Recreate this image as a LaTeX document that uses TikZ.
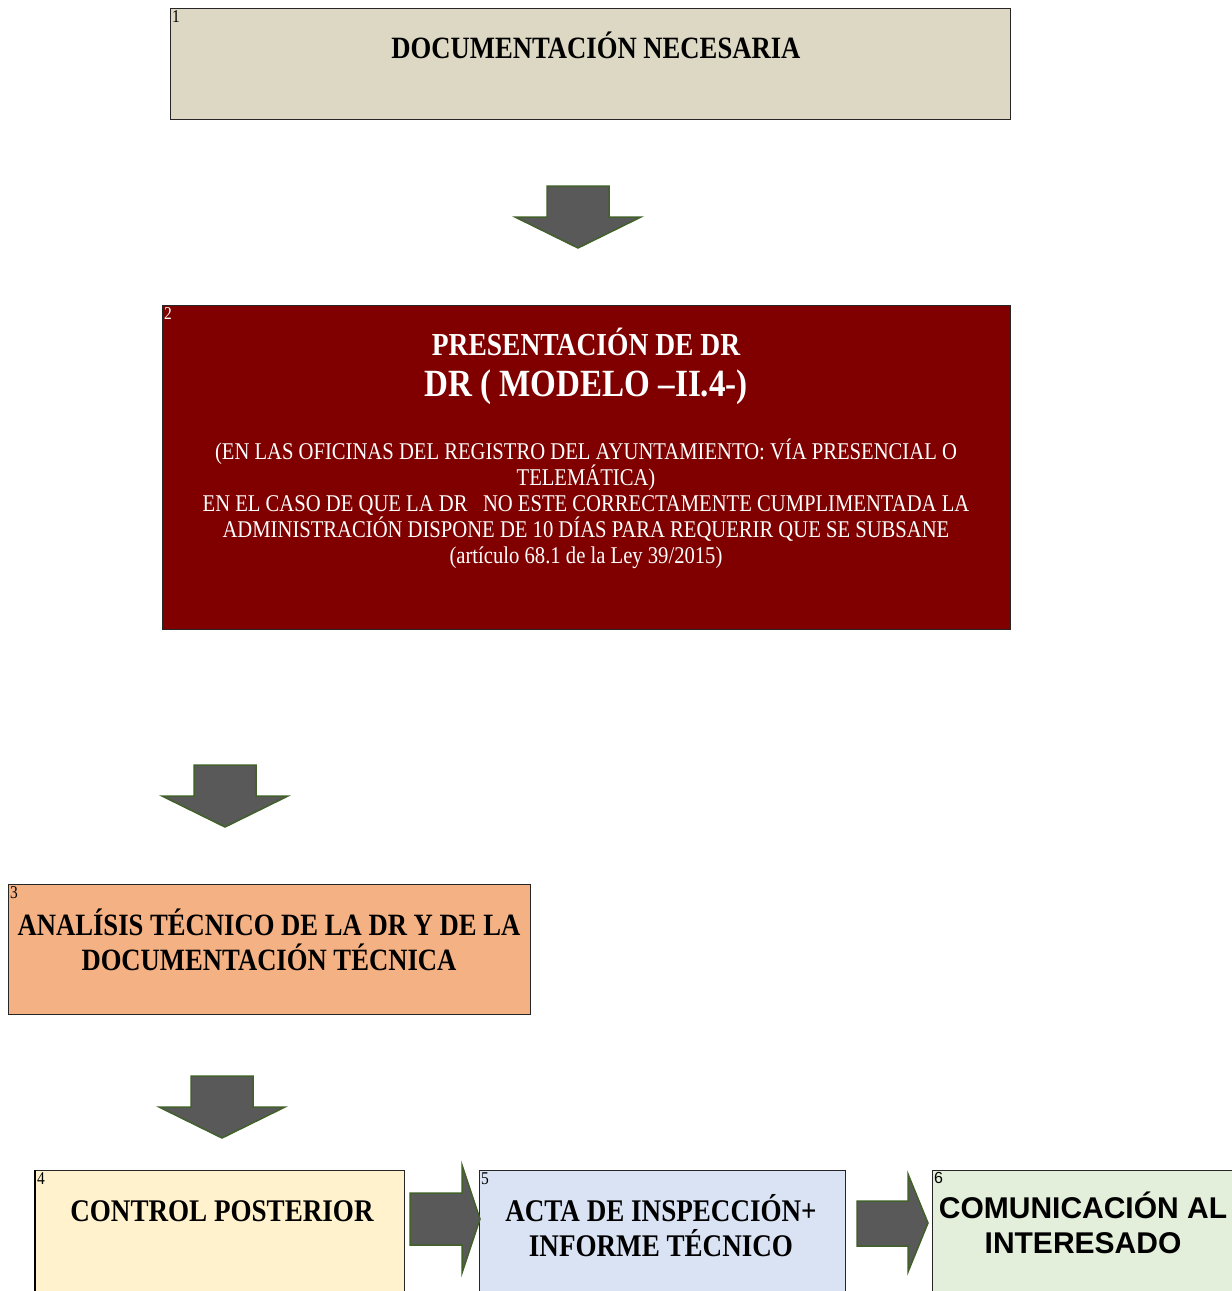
\documentclass[tikz,border=0pt]{standalone}
\usepackage{fontspec}
\setmainfont{Liberation Serif}[FakeStretch=0.86]
\newfontfamily\arialfont{Liberation Sans}
\usepackage{tikz}

\definecolor{beige}{HTML}{DDD8C4}
\definecolor{granate}{HTML}{800000}
\definecolor{salmon}{HTML}{F4B183}
\definecolor{crema}{HTML}{FFF2CC}
\definecolor{celeste}{HTML}{DAE3F3}
\definecolor{verdeclaro}{HTML}{E3EFDA}
\definecolor{flecha}{HTML}{595959}
\definecolor{verde}{HTML}{41602A}

\begin{document}
\begin{tikzpicture}[x=1pt,y=-1pt,
  caja/.style={draw=black!85, line width=1.2pt, anchor=north west, inner sep=0pt},
  num/.style={anchor=north west, inner sep=2pt, font=\fontsize{18}{18}\selectfont},
  titulo/.style={anchor=base, inner sep=0pt, align=center, font=\fontsize{31}{35}\selectfont\bfseries},
  bloque/.style={fill=flecha, draw=verde, line width=1.5pt, line join=miter}]
\useasboundingbox (0,0) rectangle (1232,1291);
\clip (0,0) rectangle (1232,1291);

% cajas
\node[caja, fill=beige, minimum width=840, minimum height=111] (doc) at (170,8) {};
\node[caja, fill=granate, minimum width=848, minimum height=324] (pres) at (162,305) {};
\node[caja, fill=salmon, minimum width=522, minimum height=130] (anal) at (8,884) {};
\node[caja, fill=crema, minimum width=369, minimum height=140] (ctrl) at (35,1170) {};
\node[caja, fill=celeste, minimum width=366, minimum height=140] (acta) at (479,1170) {};
\node[caja, fill=verdeclaro, minimum width=320, minimum height=140] (com) at (932,1170) {};
\draw[line width=2pt] (ctrl.north west) -- (ctrl.south west);

% numeros
\node[num] at (doc.north west) {1};
\node[num, text=white] at (pres.north west) {2};
\node[num] at (anal.north west) {3};
\node[num] at (ctrl.north west) {4};
\node[num] at (acta.north west) {5};
\node[num, font=\arialfont\fontsize{16}{16}\selectfont] at (com.north west) {6};

% textos (anchor base = ultima linea)
\node[titulo] (tdoc) at (596,58) {DOCUMENTACIÓN NECESARIA};
\node[titulo, text=white, font=\fontsize{32}{32}\selectfont\bfseries] (tpres) at (586,355) {PRESENTACIÓN DE DR};
\node[titulo, text=white, font=\fontsize{38.5}{38}\selectfont\bfseries] (tmod) at (586,396) {DR ( MODELO –II.4-)};
\node[titulo, text=white, font=\fontsize{24}{26}\selectfont] (tofi) at (586,563)
  {(EN LAS OFICINAS DEL REGISTRO DEL AYUNTAMIENTO: VÍA PRESENCIAL O\\
   TELEMÁTICA)\\
   EN EL CASO DE QUE LA DR\ \ \ NO ESTE CORRECTAMENTE CUMPLIMENTADA LA\\
   ADMINISTRACIÓN DISPONE DE 10 DÍAS PARA REQUERIR QUE SE SUBSANE\\
   (artículo 68.1 de la Ley 39/2015)};
\node[titulo, font=\fontsize{31}{35}\selectfont\bfseries] (tanal) at (269,970)
  {ANALÍSIS TÉCNICO DE LA DR Y DE LA\\DOCUMENTACIÓN TÉCNICA};
\node[titulo, font=\fontsize{31.5}{35}\selectfont\bfseries] (tctrl) at (222,1221) {CONTROL POSTERIOR};
\node[titulo, font=\fontsize{31.5}{35}\selectfont\bfseries] (tacta) at (661,1256)
  {ACTA DE INSPECCIÓN+\\INFORME TÉCNICO};
\node[titulo, font=\arialfont\fontsize{30}{35}\selectfont\bfseries] (tcom) at (1083,1253)
  {COMUNICACIÓN AL\\INTERESADO};

% flechas
\foreach \cx/\ty in {578/186, 225/765, 222/1076}
  \draw[bloque] (\cx-31,\ty) -- ++(62,0) -- ++(0,31) -- ++(32,0) -- (\cx,\ty+62)
    -- (\cx-63,\ty+31) -- ++(32,0) -- cycle;
\draw[bloque] (410,1193) -- (462,1193) -- (462,1165) -- (480,1219) -- (462,1273)
  -- (462,1245) -- (410,1245) -- cycle;
\draw[bloque] (857,1201) -- (908,1201) -- (908,1174) -- (928,1223) -- (908,1272)
  -- (908,1246) -- (857,1246) -- cycle;
\end{tikzpicture}
\end{document}
